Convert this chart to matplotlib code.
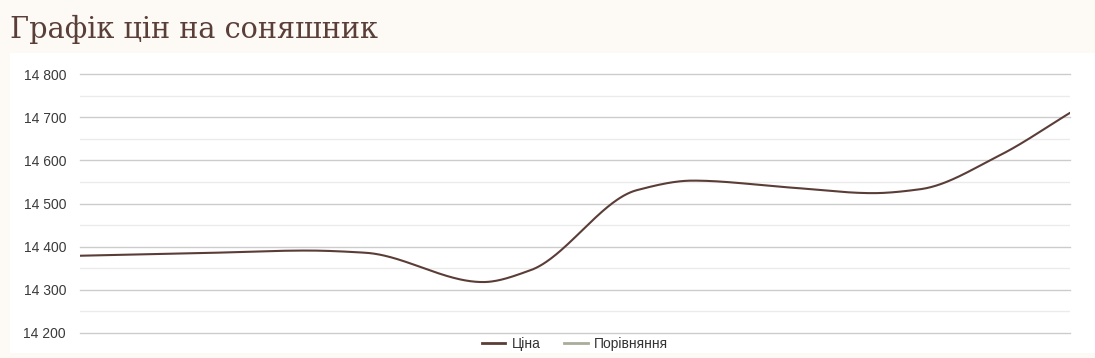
import matplotlib
matplotlib.use("Agg")
import matplotlib.pyplot as plt
import numpy as np
from matplotlib.lines import Line2D
from matplotlib.patches import Rectangle
from matplotlib.ticker import FuncFormatter, MultipleLocator

# price samples (day index, UAH/t)
days = [0, 12, 22.7, 28.5, 40.3, 45, 55.7, 61.3, 71, 79.3, 84, 92, 99]
prices = [14379, 14385, 14391, 14386, 14318, 14345, 14531, 14553,
          14537, 14524, 14533, 14612, 14710]

title = "Графік цін на соняшник"
series_names = ["Ціна", "Порівняння"]
series_colors = ["#5b3d38", "#a9ad9a"]
y_min, y_max = 14200, 14800


def _monotone_cubic(x, y, n=600):
    # Fritsch-Carlson monotone interpolation, same look as the web chart
    x = np.asarray(x, dtype=float)
    y = np.asarray(y, dtype=float)
    h = np.diff(x)
    d = np.diff(y) / h
    m = np.zeros_like(y)
    m[0], m[-1] = d[0], d[-1]
    for i in range(1, len(y) - 1):
        if d[i - 1] * d[i] <= 0:
            m[i] = 0.0
        else:
            w1 = 2 * h[i] + h[i - 1]
            w2 = h[i] + 2 * h[i - 1]
            m[i] = (w1 + w2) / (w1 / d[i - 1] + w2 / d[i])
    xs = np.linspace(x[0], x[-1], n)
    idx = np.clip(np.searchsorted(x, xs) - 1, 0, len(h) - 1)
    t = (xs - x[idx]) / h[idx]
    h00 = 2 * t**3 - 3 * t**2 + 1
    h10 = t**3 - 2 * t**2 + t
    h01 = -2 * t**3 + 3 * t**2
    h11 = t**3 - t**2
    ys = h00 * y[idx] + h10 * h[idx] * m[idx] + h01 * y[idx + 1] + h11 * h[idx] * m[idx + 1]
    return xs, ys


fig = plt.figure(figsize=(10.95, 3.58), dpi=100)
fig.patch.set_facecolor("#fdf9f5")
fig.patches.append(Rectangle((10 / 1095, 5 / 358), 1085 / 1095, 300 / 358,
                             transform=fig.transFigure, facecolor="white",
                             edgecolor="none", zorder=-5))

fig.text(10 / 1095, 1 - 29 / 358, title, fontsize=20.7, family="DejaVu Serif",
         color="#5a3f39", va="center", ha="left")

ax = fig.add_axes([80 / 1095, 25 / 358, 990 / 1095, 259 / 358])
ax.set_facecolor("none")
ax.set_zorder(2)

xs, ys = _monotone_cubic(days, prices)
ax.plot(xs, ys, color=series_colors[0], linewidth=1.5, solid_capstyle="round", zorder=3)

ax.set_xlim(days[0], days[-1])
ax.set_ylim(y_min, y_max)
ax.yaxis.set_major_locator(MultipleLocator(100))
ax.yaxis.set_minor_locator(MultipleLocator(50))
ax.yaxis.set_major_formatter(FuncFormatter(lambda v, _: f"{int(v):,}".replace(",", " ")))
ax.grid(axis="y", which="major", color="#cccccc", linewidth=1)
ax.grid(axis="y", which="minor", color="#ebebeb", linewidth=1)
ax.set_axisbelow(True)
for gl in ax.get_ygridlines() + ax.yaxis.get_minorticklines():
    gl.set_clip_on(False)
ax.set_xticks([])
for side in ax.spines.values():
    side.set_visible(False)
ax.tick_params(axis="y", which="both", length=0, pad=10, labelsize=10,
               labelcolor="#3a3a3a")
for lbl in ax.get_yticklabels():
    lbl.set_family("Liberation Sans")

handles = [Line2D([], [], color=c, linewidth=2) for c in series_colors]
leg = fig.legend(handles, series_names, loc="center", bbox_to_anchor=(575 / 1095, 1 - 344 / 358),
                 ncol=2, frameon=False, handlelength=1.7, columnspacing=1.7,
                 handletextpad=0.45, prop={"family": "Liberation Sans", "size": 10})
for txt in leg.get_texts():
    txt.set_color("#333333")

fig.savefig("out.png", dpi=100, facecolor=fig.get_facecolor())
